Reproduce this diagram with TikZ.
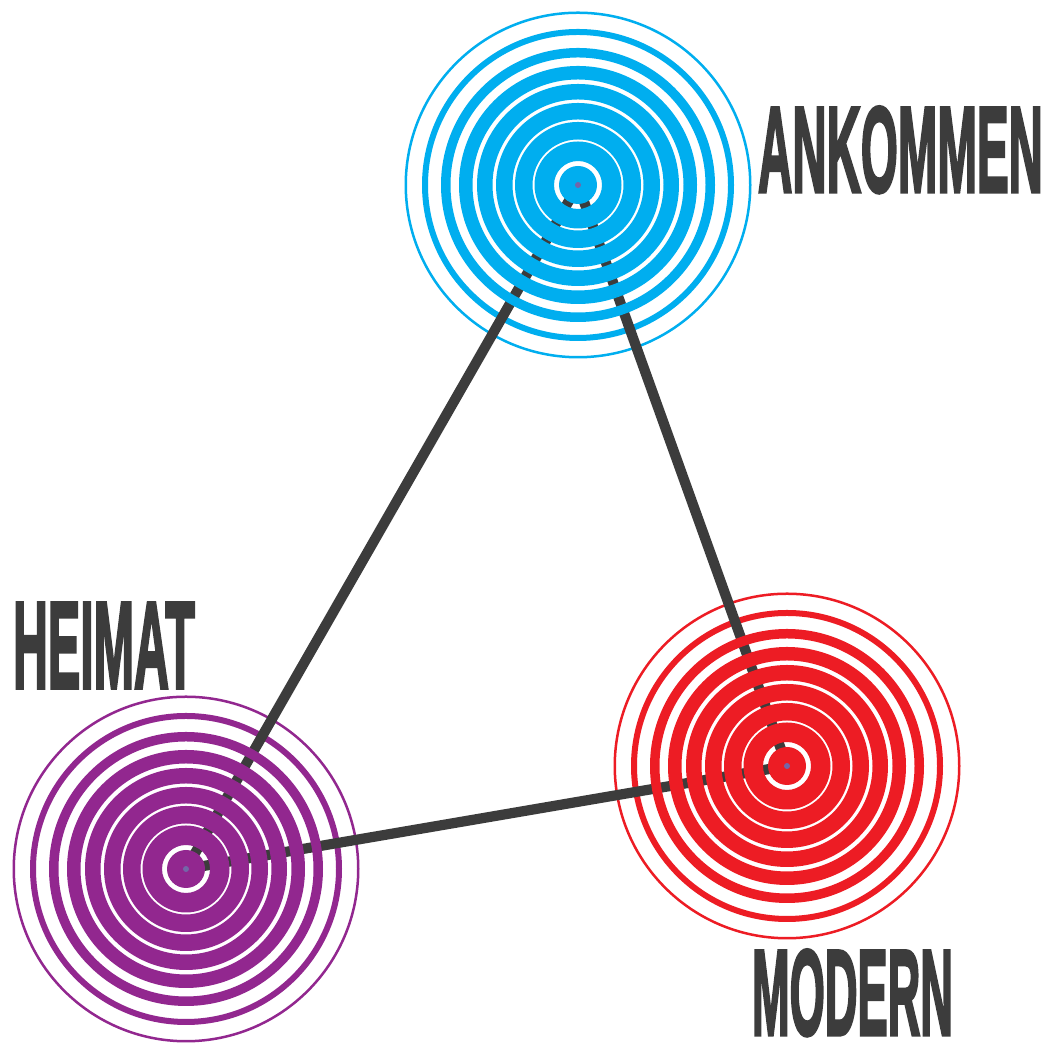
\documentclass[tikz,border=0pt]{standalone}
\usepackage{fontspec}
\usepackage{graphicx}
\newfontfamily\labelfont[FakeBold=3]{Liberation Sans Bold}
\definecolor{cblue}{HTML}{00AEEF}
\definecolor{cred}{HTML}{ED1C24}
\definecolor{cpurple}{HTML}{92278F}
\definecolor{cdark}{HTML}{3C3C3C}
\definecolor{cdot}{HTML}{7466A8}
\newcommand\outerrings[2]{\fill[#2,even odd rule] (#1) circle (173.5) circle (171) (#1) circle (156) circle (150);}
\newcommand\innerrings[2]{\fill[#2,even odd rule] (#1) circle (137) circle (127.5) circle (119) circle (105.5) circle (101) circle (85.5) circle (82) circle (65.5) circle (63) circle (45.5) circle (43.5) circle (24) circle (19);
  \fill[cdot] (#1) circle (3);}
\begin{document}
\begin{tikzpicture}[x=0.02cm,y=0.02cm,
  conn/.style={draw=cdark,line width=5.8pt},
  lbl/.style={inner sep=0pt,outer sep=0pt,text=cdark,font=\labelfont}]
\useasboundingbox (0,0) rectangle (1052,1043);
\fill[white] (0,0) rectangle (1052,1043);
\coordinate (A) at (578,858);
\coordinate (H) at (186,174);
\coordinate (M) at (787,277);
\outerrings{A}{cblue}
\outerrings{H}{cpurple}
\outerrings{M}{cred}
\draw[conn] (A) -- (H);
\draw[conn] (H) -- (M);
\draw[conn] (M) -- (A);
\innerrings{A}{cblue}
\innerrings{H}{cpurple}
\innerrings{M}{cred}
\node[lbl,anchor=south west] (ank) at (758,850) {\resizebox{5.70cm}{1.70cm}{ANKOMMEN}};
\node[lbl,anchor=south west] (hei) at (13,355) {\resizebox{3.64cm}{1.70cm}{HEIMAT}};
\node[lbl,anchor=south west] (mod) at (752,7) {\resizebox{4.02cm}{1.70cm}{MODERN}};
\end{tikzpicture}
\end{document}
